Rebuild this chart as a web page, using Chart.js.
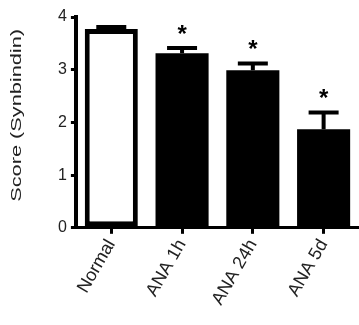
<!DOCTYPE html>
<html>
<head>
<meta charset="utf-8">
<script src="https://cdn.jsdelivr.net/npm/chart.js@4"></script>
<style>
  html, body { margin: 0; padding: 0; background: #fff; }
  #wrap { width: 359px; height: 325px; }
</style>
</head>
<body>
<div id="wrap"><canvas id="myChart" width="359" height="325"></canvas></div>
<script>
var groups = ['Normal', 'ANA 1h', 'ANA 24h', 'ANA 5d'];
var scores = [3.77, 3.31, 2.99, 1.87];
var errors = [0.04, 0.10, 0.13, 0.32];
var stars = ['', '*', '*', '*'];
var yTicks = [0, 1, 2, 3, 4];
var yTitle = 'Score (Synbindin)';

var fontFam = 'Arial, "Liberation Sans", sans-serif';

// error bars, stars and the stretched y title
var extras = {
    id: 'extras',
    afterDatasetsDraw: function (chart) {
        var ctx = chart.ctx;
        var xs = chart.scales.x;
        var ys = chart.scales.y;
        ctx.save();
        ctx.strokeStyle = '#000';
        ctx.fillStyle = '#000';
        ctx.lineWidth = 4;
        for (var i = 0; i < groups.length; i++) {
            var x = xs.getPixelForValue(i);
            var yv = ys.getPixelForValue(scores[i]);
            var ye = ys.getPixelForValue(scores[i] + errors[i]);
            ctx.beginPath();
            ctx.moveTo(x, yv);
            ctx.lineTo(x, ye);
            ctx.moveTo(x - 15, ye);
            ctx.lineTo(x + 15, ye);
            ctx.stroke();
            if (stars[i]) {
                ctx.font = 'bold 24px ' + fontFam;
                ctx.textAlign = 'center';
                ctx.textBaseline = 'alphabetic';
                ctx.fillText(stars[i], x, ye - 6);
            }
        }
        // y title
        var area = chart.chartArea;
        ctx.translate(17, (area.top + area.bottom) / 2 - 7);
        ctx.rotate(-Math.PI / 2);
        ctx.scale(1.45, 1);
        ctx.font = '15px ' + fontFam;
        ctx.textAlign = 'center';
        ctx.textBaseline = 'middle';
        ctx.fillStyle = '#222';
        ctx.fillText(yTitle, 0, 0);
        ctx.restore();
    }
};

function createChart() {
    var ctx = document.getElementById('myChart').getContext('2d');
    new Chart(ctx, {
        type: 'bar',
        data: {
            labels: groups,
            datasets: [{
                data: scores,
                backgroundColor: ['#fff', '#000', '#000', '#000'],
                borderColor: '#000',
                borderWidth: [5, 0, 0, 0],
                borderSkipped: false,
                barPercentage: 0.75,
                categoryPercentage: 1
            }]
        },
        options: {
            responsive: false,
            animation: false,
            layout: { padding: { left: 54, top: 17, right: 0, bottom: 14 } },
            plugins: { legend: { display: false }, tooltip: { enabled: false } },
            scales: {
                x: {
                    grid: { display: true, offset: false, drawOnChartArea: false, drawTicks: true, tickLength: 6, lineWidth: 3, color: '#000' },
                    border: { display: true, color: '#000', width: 3 },
                    ticks: {
                        color: '#222',
                        font: { family: fontFam, size: 18 },
                        minRotation: 60,
                        maxRotation: 60,
                        padding: 2
                    }
                },
                y: {
                    min: 0,
                    max: 4,
                    afterBuildTicks: function (axis) {
                        axis.ticks = yTicks.map(function (v) { return { value: v }; });
                    },
                    grid: { display: true, drawOnChartArea: false, drawTicks: true, tickLength: 5, lineWidth: 3, color: '#000' },
                    border: { display: true, color: '#000', width: 4 },
                    ticks: {
                        color: '#222',
                        font: { family: fontFam, size: 16 },
                        padding: 4
                    }
                }
            }
        },
        plugins: [extras]
    });
}

document.addEventListener('DOMContentLoaded', function () {
    createChart();
});
</script>
</body>
</html>
